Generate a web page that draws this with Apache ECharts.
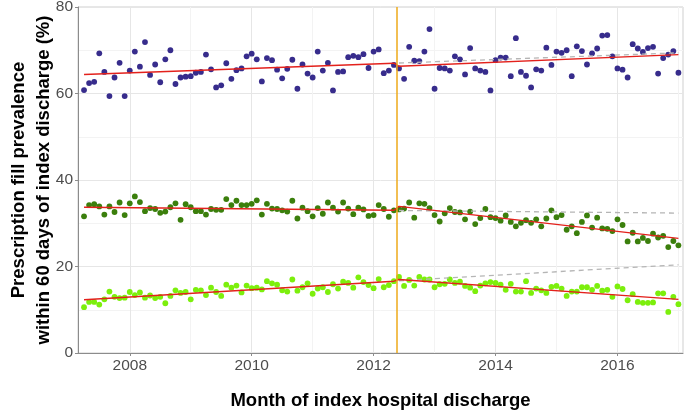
<!DOCTYPE html>
<html>
<head>
<meta charset="utf-8">
<script src="https://cdn.jsdelivr.net/npm/echarts@6/dist/echarts.min.js"></script>
<style>html,body{margin:0;padding:0;background:#fff}#c{width:685px;height:412px}</style>
</head>
<body>
<div id="c"></div>
<script>
// ---- data (monthly, April 2007 .. January 2017) ----
var startYear = 2007, startMonth = 4, nMonths = 118;
var purple = [60.8,62.4,62.7,69.3,65.0,59.4,63.7,67.1,59.4,65.3,69.7,66.2,71.9,64.3,66.7,62.6,67.9,70.0,62.2,63.7,
  63.9,64.0,64.8,65.0,69.0,65.6,61.4,61.9,67.0,63.4,65.4,65.8,68.6,69.2,67.9,62.8,68.2,67.7,65.5,63.5,
  65.7,67.8,61.1,66.7,64.6,63.7,69.7,65.3,67.1,60.7,65.0,65.1,68.4,68.7,68.4,69.1,65.9,69.7,70.2,64.7,
  65.3,66.6,65.8,63.4,70.8,67.6,67.5,69.7,74.9,61.1,65.9,65.8,65.3,68.6,67.9,64.4,70.5,65.8,65.3,65.0,
  60.7,67.7,68.3,68.3,64.0,72.8,65.0,64.1,61.4,65.6,65.3,70.6,66.6,69.7,69.4,70.0,64.0,70.9,69.8,66.7,
  69.3,70.4,73.4,73.5,68.6,65.8,65.5,63.7,71.4,70.4,69.6,70.5,70.8,64.6,68.2,69.0,69.8,64.8];
var darkGreen = [31.6,34.2,34.4,33.9,32.0,33.9,32.6,34.8,31.9,34.6,36.2,34.9,32.8,33.5,33.3,32.4,32.7,33.7,34.6,30.8,
  34.4,33.7,32.8,32.8,32.0,33.3,33.1,33.1,35.6,34.2,35.2,34.2,34.2,34.5,35.3,32.0,34.5,33.4,33.3,33.0,
  32.7,35.2,31.1,33.6,32.8,31.6,33.5,32.2,34.8,33.6,32.7,34.8,33.4,32.1,33.6,33.2,31.7,31.9,34.2,33.3,
  31.5,33.0,33.2,33.4,34.8,31.3,34.6,34.5,33.5,31.9,30.4,32.3,33.5,32.6,32.5,30.9,32.7,29.8,31.2,33.3,
  31.4,31.2,30.6,31.8,30.3,29.3,30.1,30.7,30.1,30.9,29.3,31.1,33.0,31.4,31.9,28.5,29.3,27.7,30.3,31.8,
  29.0,31.3,28.8,28.7,28.2,30.9,29.6,25.8,27.8,25.8,26.6,25.9,27.6,26.7,27.1,24.5,25.9,24.9];
var lightGreen = [10.6,11.8,11.8,11.2,12.4,14.2,13.0,12.7,12.8,14.1,13.4,14.0,12.8,13.3,12.7,13.0,11.5,13.2,14.5,13.9,
  14.1,12.4,14.6,14.5,13.4,15.1,14.1,13.2,15.8,15.1,15.6,14.0,15.6,15.0,15.1,14.7,16.6,16.1,15.8,14.5,
  14.2,17.0,14.4,15.2,16.1,13.7,14.9,15.2,14.1,15.9,14.9,16.5,16.2,15.1,17.5,16.4,15.7,15.0,17.1,15.2,
  15.7,16.6,17.6,15.5,16.9,15.6,17.6,17.0,17.0,15.2,15.9,16.0,17.0,16.2,16.5,15.5,15.1,14.3,15.6,16.1,
  16.4,16.2,15.8,14.6,16.0,14.2,14.2,16.6,13.9,14.9,14.5,13.9,15.3,15.5,14.9,13.2,14.2,14.2,15.2,15.2,
  14.6,15.5,14.4,14.6,13.0,15.4,14.8,12.2,13.6,11.8,11.6,11.6,11.7,13.8,13.8,9.5,13.0,11.3];
// fitted segmented trends: [first month, last pre month, first post month, last month]
var purpleFit = [64.4, 67.0, 66.3, 69.0];
var darkGreenFit = [33.7, 33.0, 33.9, 26.5];
var lightGreenFit = [12.3, 16.6, 17.0, 12.4];
// counterfactual (pre trend continued): [first post month, last month]
var purpleCf = [67.05, 69.4];
var darkGreenCf = [32.95, 32.35];
var lightGreenCf = [16.7, 20.4];
var breakIndex = 62;          // months 1..62 pre, 63.. post
var interventionDate = 2012.375;
var xTickLabels = [2008, 2010, 2012, 2014, 2016];
var xMinorTicks = [2009, 2011, 2013, 2015, 2017];
var yTickLabels = [0, 20, 40, 60, 80];
var yMinorTicks = [10, 30, 50, 70];

// ---- build ----
var t = [];
for (var i = 0; i < nMonths; i++) t.push(startYear + (startMonth - 1 + i) / 12);
function pts(arr) { return arr.map(function (v, i) { return [t[i], v]; }); }
function fit(f) { return [[t[0], f[0]], [t[breakIndex - 1], f[1]], [t[breakIndex], f[2]], [t[nMonths - 1], f[3]]]; }
function cf(c) { return [[t[breakIndex], c[0]], [t[nMonths - 1], c[1]]]; }

var textColor = '#4d4d4d';
var font = 'Liberation Sans, Arial, Helvetica, sans-serif';
function scatter(name, data, color) {
  return { name: name, type: 'scatter', data: pts(data), symbolSize: 5.8, z: 3,
    itemStyle: { color: color, opacity: 1 }, emphasis: { disabled: true } };
}
function line(data, color, type, width) {
  return { type: 'line', data: data, symbol: 'none', z: 4, silent: true,
    lineStyle: { color: color, width: width, type: type } };
}
var chart = echarts.init(document.getElementById('c'), null, { renderer: 'canvas' });
chart.setOption({
  animation: false,
  backgroundColor: '#ffffff',
  grid: { left: 78, right: 2, top: 7, bottom: 59, show: true, borderColor: '#cfcfcf', borderWidth: 1,
    backgroundColor: 'transparent', containLabel: false, outerBoundsMode: 'none' },
  xAxis: [{
    type: 'value', min: 2007.151, max: 2017.075,
    name: 'Month of index hospital discharge', nameLocation: 'middle', nameGap: 38, nameMoveOverlap: false,
    nameTextStyle: { fontFamily: font, fontSize: 18.5, fontWeight: 'bold', color: '#000' },
    axisLine: { show: true, onZero: false, lineStyle: { color: '#8c8c8c', width: 1 } },
    axisTick: { show: true, length: 3, customValues: xTickLabels, lineStyle: { color: '#8c8c8c' } },
    axisLabel: { customValues: xTickLabels, fontFamily: font, fontSize: 15.5, color: textColor, margin: 5,
      formatter: function (v) { return String(v); } },
    splitLine: { show: true, lineStyle: { color: '#e6e6e6', width: 1 } }
  }, {
    type: 'value', min: 2007.151, max: 2017.075, position: 'bottom',
    axisLine: { show: false }, axisLabel: { show: false },
    axisTick: { show: false, customValues: xMinorTicks },
    splitLine: { show: true, lineStyle: { color: '#f3f3f3', width: 1 } }
  }],
  yAxis: [{
    type: 'value', min: 0, max: 80, interval: 20,
    name: 'Prescription fill prevalence\nwithin 60 days of index discharge (%)',
    nameLocation: 'middle', nameRotate: 90, nameGap: 22, nameMoveOverlap: false,
    nameTextStyle: { fontFamily: font, fontSize: 18.5, fontWeight: 'bold', color: '#000', lineHeight: 25, align: 'center' },
    axisLine: { show: true, lineStyle: { color: '#8c8c8c', width: 1 } },
    axisTick: { show: true, length: 3, lineStyle: { color: '#8c8c8c' } },
    axisLabel: { fontFamily: font, fontSize: 15.5, color: textColor, margin: 5 },
    splitLine: { show: true, lineStyle: { color: '#e6e6e6', width: 1 } }
  }, {
    type: 'value', min: 0, max: 80, position: 'left',
    axisLine: { show: false }, axisLabel: { show: false },
    axisTick: { show: false, customValues: yMinorTicks },
    splitLine: { show: true, lineStyle: { color: '#f3f3f3', width: 1 } }
  }],
  series: [
    scatter('purple', purple, '#372c8c'),
    scatter('darkGreen', darkGreen, '#3b7f0c'),
    scatter('lightGreen', lightGreen, '#7cef0c'),
    line(cf(purpleCf), '#b5b5b5', [5, 4], 1.3),
    line(cf(darkGreenCf), '#b5b5b5', [5, 4], 1.3),
    line(cf(lightGreenCf), '#b5b5b5', [5, 4], 1.3),
    line(fit(purpleFit), '#e3211c', 'solid', 1.4),
    line(fit(darkGreenFit), '#e3211c', 'solid', 1.4),
    line(fit(lightGreenFit), '#e3211c', 'solid', 1.4),
    { type: 'line', data: [], z: 2, silent: true,
      markLine: { symbol: 'none', silent: true, label: { show: false },
        lineStyle: { color: '#eeaa1a', width: 1.5, type: 'solid' },
        data: [{ xAxis: interventionDate }] } }
  ]
});
</script>
</body>
</html>
